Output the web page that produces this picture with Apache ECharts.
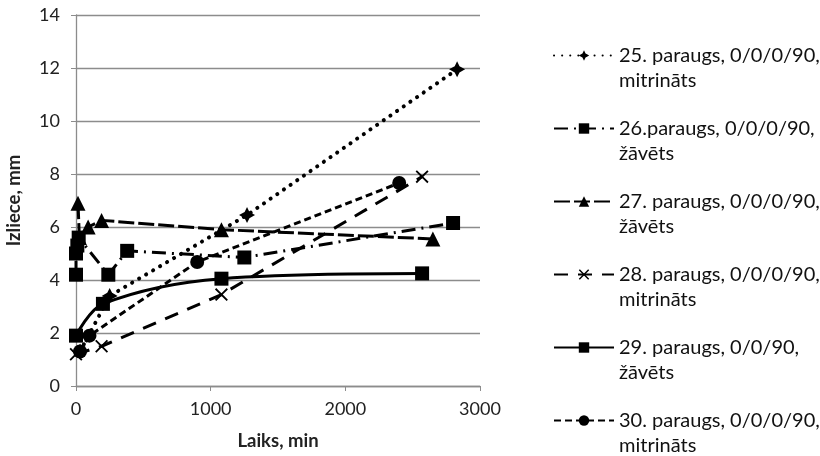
<!DOCTYPE html>
<html>
<head>
<meta charset="utf-8">
<script src="https://cdn.jsdelivr.net/npm/echarts@6/dist/echarts.min.js"></script>
<style>html,body{margin:0;padding:0;background:#fff}#c{width:820px;height:456px}</style>
</head>
<body>
<div id="c"></div>
<script>
// Series names
const names = [
  "25. paraugs, 0/0/0/90,\nmitrināts",
  "26.paraugs, 0/0/0/90,\nžāvēts",
  "27. paraugs, 0/0/0/90,\nžāvēts",
  "28. paraugs, 0/0/0/90,\nmitrināts",
  "29. paraugs, 0/0/90,\nžāvēts",
  "30. paraugs, 0/0/0/90,\nmitrināts"
];
// Data (Laiks, min / Izliece, mm)
const s25x = [30, 250, 1270, 2830];
const s25y = [1.3, 3.4, 6.45, 11.95];
const s26x = [0, 0, 10, 20, 240, 380, 1250, 2800];
const s26y = [4.2, 5.0, 5.3, 5.6, 4.2, 5.1, 4.85, 6.15];
const s27x = [15, 25, 90, 190, 1080, 2650];
const s27y = [6.9, 5.6, 6.0, 6.25, 5.9, 5.55];
const s28x = [0, 190, 1080, 2570];
const s28y = [1.2, 1.5, 3.45, 7.9];
const s29x = [0, 200, 1080, 2570];
const s29y = [1.9, 3.1, 4.05, 4.25];
const s30x = [30, 100, 900, 2400];
const s30y = [1.3, 1.9, 4.68, 7.66];
const xTicks = [0, 1000, 2000, 3000];
const yTicks = [0, 2, 4, 6, 8, 10, 12, 14];

const zip = (xs, ys) => xs.map((x, i) => [x, ys[i]]);
const FONT = "Lato";
const X_PATH = 'path://M2,0 L10,8 L18,0 L20,2 L12,10 L20,18 L18,20 L10,12 L2,20 L0,18 L8,10 L0,2 Z';
const STAR_PATH = 'path://M10,0 L13,6 L20,10 L13,14 L10,20 L7,14 L0,10 L7,6 Z';

function mk(name, data, symbol, size, type, width, smooth) {
  return {
    name: name, type: 'line', data: data, symbol: symbol, symbolSize: size,
    smooth: smooth || false, showSymbol: true,
    itemStyle: { color: '#000' },
    lineStyle: { color: '#000', width: width, type: type, cap: 'butt' },
    emphasis: { disabled: true }, animation: false
  };
}

const series = [
  mk(names[0], zip(s25x, s25y), STAR_PATH, 16, [0.1, 8], 4),
  mk(names[1], zip(s26x, s26y), 'rect', 14, [14, 6, 2, 6], 3),
  mk(names[2], zip(s27x, s27y), 'triangle', 15, [16, 4], 3),
  mk(names[3], zip(s28x, s28y), X_PATH, 13, [14, 10], 3),
  mk(names[4], zip(s29x, s29y), 'rect', 14, 'solid', 3, 0.35),
  mk(names[5], zip(s30x, s30y), 'circle', 14, [7, 4], 3)
];
series[0].lineStyle.cap = 'round';

const chart = echarts.init(document.getElementById('c'), null, { renderer: 'canvas' });
chart.setOption({
  animation: false,
  textStyle: { fontFamily: FONT },
  grid: { left: 76, right: 340, top: 15, bottom: 70 },
  xAxis: {
    type: 'value', min: xTicks[0], max: xTicks[xTicks.length - 1], interval: 1000,
    name: 'Laiks, min', nameLocation: 'middle', nameGap: 46,
    nameTextStyle: { fontFamily: FONT, fontWeight: 'bold', fontSize: 18.5, color: '#222' },
    axisLine: { lineStyle: { color: '#8c8c8c', width: 1.3 } },
    axisTick: { show: true, length: 5, lineStyle: { color: '#8c8c8c' } },
    axisLabel: { fontSize: 18, color: '#222', margin: 14, fontFamily: FONT, formatter: v => String(v) },
    splitLine: { show: false }
  },
  yAxis: {
    type: 'value', min: yTicks[0], max: yTicks[yTicks.length - 1], interval: 2,
    name: 'Izliece, mm', nameLocation: 'middle', nameGap: 52,
    nameTextStyle: { fontFamily: FONT, fontWeight: 'bold', fontSize: 18.5, color: '#222' },
    axisLine: { show: true, lineStyle: { color: '#8c8c8c', width: 1.3 } },
    axisTick: { show: true, length: 5, lineStyle: { color: '#8c8c8c' } },
    axisLabel: { fontSize: 18, color: '#222', margin: 16, fontFamily: FONT },
    splitLine: { show: true, lineStyle: { color: '#8c8c8c', width: 1.3 } }
  },
  legend: {
    orient: 'vertical', left: 553, top: 18, height: 452, itemWidth: 60, itemHeight: 13, itemGap: -2,
    padding: 0, selectedMode: false,
    formatter: n => ' \n' + n,
    textStyle: { fontFamily: FONT, fontSize: 20, color: '#111', lineHeight: 25 },
    data: names
  },
  series: series
});
</script>
</body>
</html>
